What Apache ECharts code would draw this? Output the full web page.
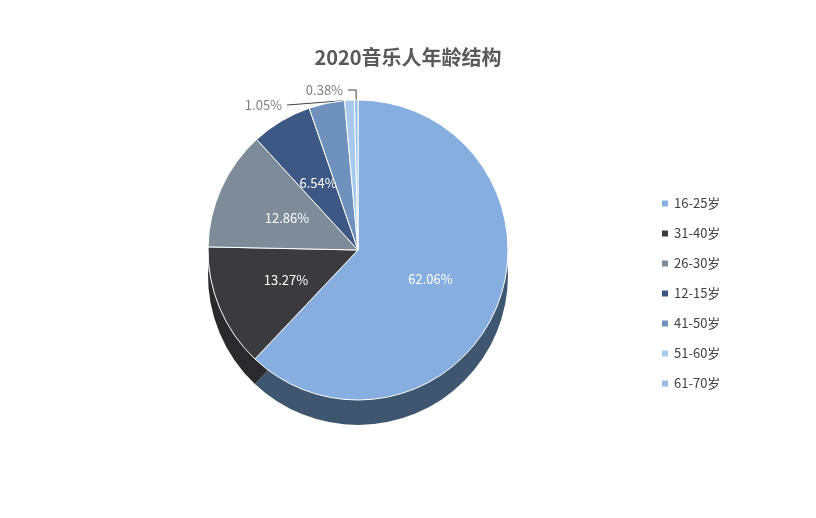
<!DOCTYPE html>
<html>
<head>
<meta charset="utf-8">
<script src="https://cdn.jsdelivr.net/npm/echarts@6/dist/echarts.min.js"></script>
</head>
<body style="margin:0;background:#fff">
<div id="main" style="width:816px;height:518px"></div>
<script>
var categories = ['16-25岁', '31-40岁', '26-30岁', '12-15岁', '41-50岁', '51-60岁', '61-70岁'];
var values = [62.06, 13.27, 12.86, 6.54, 3.84, 1.05, 0.38];
var colors = ['#86AEE0', '#3B3B3F', '#7E8B98', '#3D5884', '#6F91BE', '#A8C9EE', '#98BCE6'];
var sideColors = ['#3F5670', '#2A2A2C', '#505A64', '#2B3E5C', '#4A6686', '#6A8BB0', '#6586AA'];

var dom = document.getElementById('main');
var myChart = echarts.init(dom);

var topData = categories.map(function (c, i) {
	return { name: c, value: values[i], itemStyle: { color: colors[i] } };
});
var sideData = categories.map(function (c, i) {
	return { name: c, value: values[i], itemStyle: { color: sideColors[i] } };
});

var option = {
	backgroundColor: '#fff',
	title: {
		text: '2020音乐人年龄结构',
		left: 'center',
		top: 42,
		textStyle: { fontFamily: 'Noto Sans CJK SC', fontSize: 20, fontWeight: 'bold', color: '#595959' }
	},
	legend: {
		orient: 'vertical',
		left: 655,
		top: 192,
		itemWidth: 8,
		itemHeight: 8,
		itemGap: 17,
		icon: 'rect',
		data: categories,
		textStyle: { fontFamily: 'Noto Sans CJK SC', fontSize: 13, color: '#404040' }
	},
	series: [
		{
			type: 'pie',
			z: 3,
			radius: 150,
			center: [358, 250],
			startAngle: 90,
			itemStyle: { borderColor: '#fff', borderWidth: 1 },
			label: {
				position: 'inner',
				formatter: function (p) { return p.value.toFixed(2) + '%'; },
				color: '#fff',
				fontFamily: 'Noto Sans CJK SC',
				fontSize: 13
			},
			data: topData.map(function (d) {
				if (d.value < 2) {
					d.label = { position: 'outside', color: '#7f7f7f' };
					d.labelLine = { show: true, length: 10, length2: 8, lineStyle: { color: '#404040' } };
				}
				return d;
			})
		},
		{
			type: 'pie',
			z: 1,
			radius: 150,
			center: [358, 275],
			startAngle: 90,
			silent: true,
			label: { show: false },
			labelLine: { show: false },
			legendHoverLink: false,
			data: sideData
		}
	]
};
myChart.setOption(option, true);
</script>
</body>
</html>
